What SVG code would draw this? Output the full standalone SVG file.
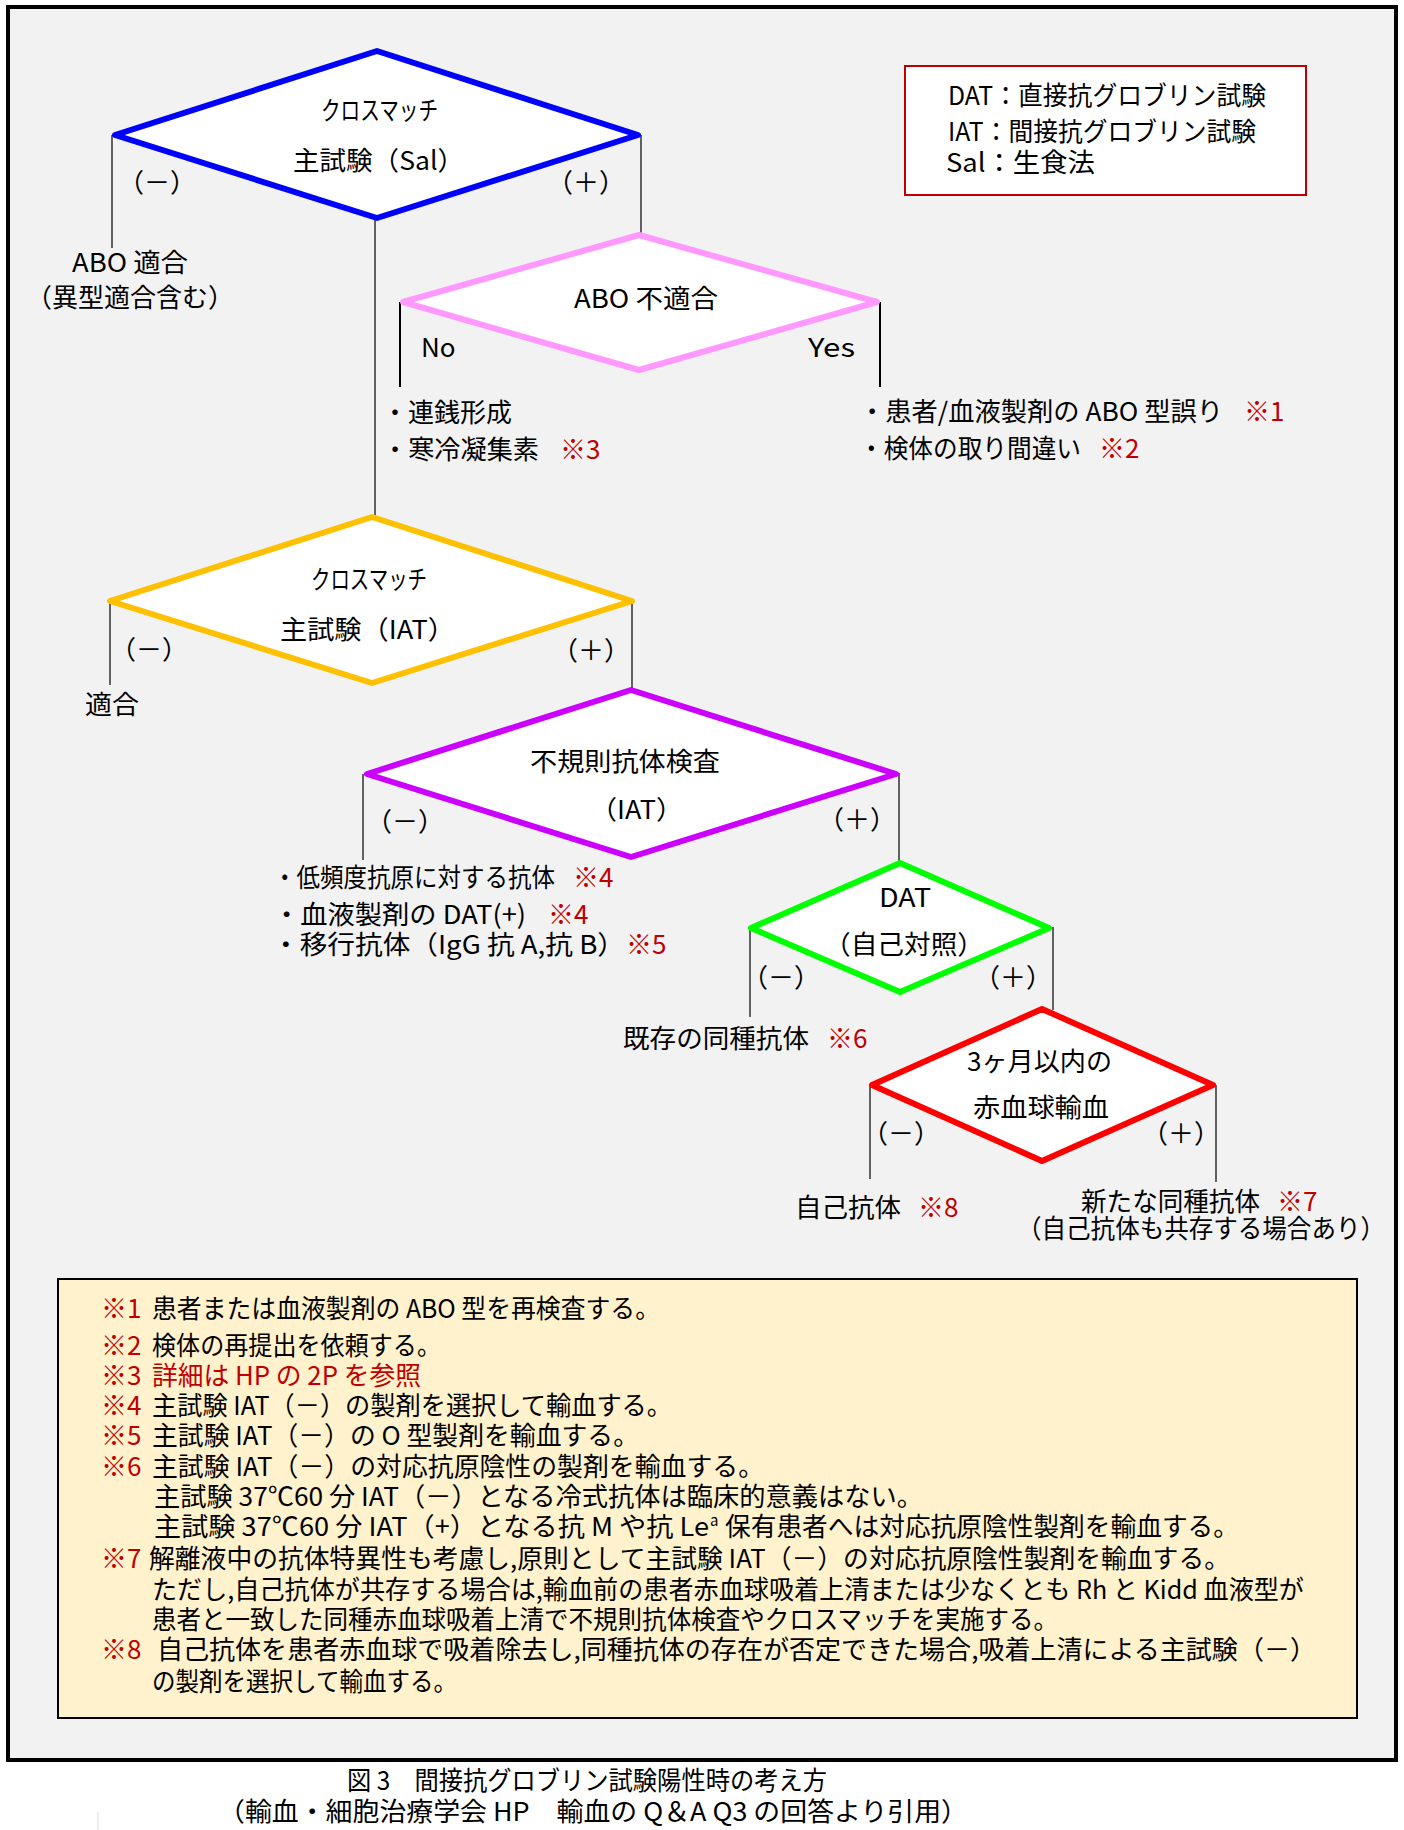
<svg xmlns="http://www.w3.org/2000/svg" width="1404" height="1830" viewBox="0 0 1404 1830">
<style>
.t{font-family:"Noto Sans CJK JP","Noto Sans",sans-serif;font-size:26px;fill:#000}
.m{text-anchor:middle}
.r{fill:#c00000}
.c{stroke:#000;stroke-width:1.2;fill:none}
.c2{stroke:#000;stroke-width:2;fill:none}
.d{fill:#fff;stroke-width:6;stroke-linejoin:round}
</style>
<rect x="0" y="0" width="1404" height="1830" fill="#fff"/>
<rect id="frame" x="8" y="7" width="1388" height="1753" fill="#f2f2f2" stroke="#000" stroke-width="4"/>
<line x1="98" y1="1812" x2="98" y2="1830" stroke="#d9d9d9" stroke-width="1"/>

<g id="connectors">
<line class="c" x1="112" y1="135" x2="112" y2="248"/>
<line class="c" x1="375" y1="219" x2="375" y2="516"/>
<line class="c" x1="641" y1="135" x2="641" y2="234"/>
<line class="c2" x1="400" y1="302" x2="400" y2="387"/>
<line class="c2" x1="880" y1="302" x2="880" y2="387"/>
<line class="c" x1="110" y1="601" x2="110" y2="685"/>
<line class="c" x1="632" y1="601" x2="632" y2="689"/>
<line class="c" x1="363" y1="774" x2="363" y2="860"/>
<line class="c" x1="899" y1="773" x2="899" y2="862"/>
<line class="c" x1="750" y1="927" x2="750" y2="1017"/>
<line class="c" x1="1053" y1="927" x2="1053" y2="1010"/>
<line class="c" x1="870" y1="1085" x2="870" y2="1179"/>
<line class="c" x1="1216" y1="1085" x2="1216" y2="1182"/>
</g>

<g id="crossmatch-sal">
<polygon class="d" stroke="#0000ff" points="115,135 377,51 638,135 377,218"/>
<text class="t" x="321" y="120" textLength="117" lengthAdjust="spacingAndGlyphs">クロスマッチ</text>
<text class="t" x="293" y="170" textLength="171" lengthAdjust="spacingAndGlyphs">主試験（Sal）</text>
<text class="t m" x="157" y="192">（－）</text>
<text class="t m" x="586" y="192">（＋）</text>
</g>

<g id="abo-compatible">
<text class="t" x="72" y="272" textLength="116" lengthAdjust="spacingAndGlyphs">ABO 適合</text>
<text class="t" x="26" y="307">（異型適合含む）</text>
</g>

<g id="abo-incompatible">
<polygon class="d" stroke="#ff99ff" stroke-width="5.5" points="403,302 639,235 877,302 639,370"/>
<text class="t" x="574" y="308" textLength="144" lengthAdjust="spacingAndGlyphs">ABO 不適合</text>
<text class="t" x="421" y="357">No</text>
<text class="t" x="808" y="357" textLength="47" lengthAdjust="spacingAndGlyphs">Yes</text>
</g>

<g id="no-result">
<text class="t" x="382" y="422">・連銭形成</text>
<text class="t" x="382" y="459" textLength="157" lengthAdjust="spacingAndGlyphs">・寒冷凝集素</text>
<text class="t r" x="560" y="459">※3</text>
</g>

<g id="yes-result">
<text class="t" x="859" y="421" textLength="364" lengthAdjust="spacingAndGlyphs">・患者/血液製剤の ABO 型誤り</text>
<text class="t r" x="1244" y="421">※1</text>
<text class="t" x="859" y="458" textLength="222" lengthAdjust="spacingAndGlyphs">・検体の取り間違い</text>
<text class="t r" x="1099" y="458">※2</text>
</g>

<g id="legend">
<rect x="905" y="66" width="401" height="129" fill="#fff" stroke="#c00000" stroke-width="2"/>
<text class="t" x="948" y="105" textLength="318" lengthAdjust="spacingAndGlyphs">DAT：直接抗グロブリン試験</text>
<text class="t" x="948" y="141" textLength="308" lengthAdjust="spacingAndGlyphs">IAT：間接抗グロブリン試験</text>
<text class="t" x="946" y="172" textLength="149" lengthAdjust="spacingAndGlyphs">Sal：生食法</text>
</g>

<g id="crossmatch-iat">
<polygon class="d" stroke="#ffc000" points="110,601 372,517 632,601 372,683"/>
<text class="t" x="311" y="589" textLength="116" lengthAdjust="spacingAndGlyphs">クロスマッチ</text>
<text class="t" x="280" y="639" textLength="175" lengthAdjust="spacingAndGlyphs">主試験（IAT）</text>
<text class="t m" x="149" y="659">（－）</text>
<text class="t m" x="591" y="660">（＋）</text>
</g>

<g id="compatible">
<text class="t" x="85" y="714" textLength="54" lengthAdjust="spacingAndGlyphs">適合</text>
</g>

<g id="antibody-screen">
<polygon class="d" stroke="#cc00ff" points="367,774 631,690 896,774 631,857"/>
<text class="t" x="530" y="771" textLength="190" lengthAdjust="spacingAndGlyphs">不規則抗体検査</text>
<text class="t" x="590" y="819" textLength="93" lengthAdjust="spacingAndGlyphs">（IAT）</text>
<text class="t m" x="405" y="831">（－）</text>
<text class="t m" x="857" y="829">（＋）</text>
</g>

<g id="screen-negative">
<text class="t" x="273" y="887" textLength="282" lengthAdjust="spacingAndGlyphs">・低頻度抗原に対する抗体</text>
<text class="t r" x="573" y="887">※4</text>
<text class="t" x="273" y="924" textLength="253" lengthAdjust="spacingAndGlyphs">・血液製剤の DAT(+)</text>
<text class="t r" x="548" y="924">※4</text>
<text class="t" x="272" y="954" textLength="353" lengthAdjust="spacingAndGlyphs">・移行抗体（IgG 抗 A,抗 B）</text>
<text class="t r" x="626" y="954">※5</text>
</g>

<g id="dat">
<polygon class="d" stroke="#00ff00" points="751,928 900,863 1049,928 900,992"/>
<text class="t" x="879" y="907" textLength="52" lengthAdjust="spacingAndGlyphs">DAT</text>
<text class="t" x="824" y="954" textLength="160" lengthAdjust="spacingAndGlyphs">（自己対照）</text>
<text class="t m" x="781" y="987">（－）</text>
<text class="t m" x="1013" y="987">（＋）</text>
</g>

<g id="existing-alloantibody">
<text class="t" x="623" y="1048" textLength="186" lengthAdjust="spacingAndGlyphs">既存の同種抗体</text>
<text class="t r" x="827" y="1048">※6</text>
</g>

<g id="recent-transfusion">
<polygon class="d" stroke="#ff0000" points="872,1085 1042,1009 1213,1085 1042,1161"/>
<text class="t" x="967" y="1071" textLength="145" lengthAdjust="spacingAndGlyphs">3ヶ月以内の</text>
<text class="t" x="973" y="1117" textLength="136" lengthAdjust="spacingAndGlyphs">赤血球輸血</text>
<text class="t m" x="901" y="1143">（－）</text>
<text class="t m" x="1181" y="1143">（＋）</text>
</g>

<g id="autoantibody">
<text class="t" x="795" y="1217" textLength="106" lengthAdjust="spacingAndGlyphs">自己抗体</text>
<text class="t r" x="918" y="1217">※8</text>
</g>

<g id="new-alloantibody">
<text class="t" x="1081" y="1211" textLength="179" lengthAdjust="spacingAndGlyphs">新たな同種抗体</text>
<text class="t r" x="1277" y="1211">※7</text>
<text class="t" x="1017" y="1238" textLength="368" lengthAdjust="spacingAndGlyphs">（自己抗体も共存する場合あり）</text>
</g>

<g id="notes">
<rect x="58" y="1279" width="1299" height="439" fill="#fff2cc" stroke="#000" stroke-width="2"/>
<text class="t" y="1318"><tspan class="r" x="101">※1</tspan><tspan x="152" textLength="508" lengthAdjust="spacingAndGlyphs">患者または血液製剤の ABO 型を再検査する。</tspan></text>
<text class="t" y="1355"><tspan class="r" x="101">※2</tspan><tspan x="152" textLength="289" lengthAdjust="spacingAndGlyphs">検体の再提出を依頼する。</tspan></text>
<text class="t r" y="1385"><tspan x="101">※3</tspan><tspan x="152" textLength="269" lengthAdjust="spacingAndGlyphs">詳細は HP の 2P を参照</tspan></text>
<text class="t" y="1415"><tspan class="r" x="101">※4</tspan><tspan x="152" textLength="520" lengthAdjust="spacingAndGlyphs">主試験 IAT（－）の製剤を選択して輸血する。</tspan></text>
<text class="t" y="1445"><tspan class="r" x="101">※5</tspan><tspan x="152" textLength="487" lengthAdjust="spacingAndGlyphs">主試験 IAT（－）の O 型製剤を輸血する。</tspan></text>
<text class="t" y="1476"><tspan class="r" x="101">※6</tspan><tspan x="152" textLength="612" lengthAdjust="spacingAndGlyphs">主試験 IAT（－）の対応抗原陰性の製剤を輸血する。</tspan></text>
<text class="t" y="1506"><tspan x="154" textLength="769" lengthAdjust="spacingAndGlyphs">主試験 37℃60 分 IAT（－）となる冷式抗体は臨床的意義はない。</tspan></text>
<text class="t" y="1536"><tspan x="154" textLength="555" lengthAdjust="spacingAndGlyphs">主試験 37℃60 分 IAT（+）となる抗 M や抗 Le</tspan><tspan x="710" dy="-10" font-size="15">a</tspan><tspan x="725" dy="10" textLength="514" lengthAdjust="spacingAndGlyphs">保有患者へは対応抗原陰性製剤を輸血する。</tspan></text>
<text class="t" y="1568"><tspan class="r" x="101">※7</tspan><tspan x="149" textLength="1081" lengthAdjust="spacingAndGlyphs">解離液中の抗体特異性も考慮し,原則として主試験 IAT（－）の対応抗原陰性製剤を輸血する。</tspan></text>
<text class="t" y="1599"><tspan x="152" textLength="1152" lengthAdjust="spacingAndGlyphs">ただし,自己抗体が共存する場合は,輸血前の患者赤血球吸着上清または少なくとも Rh と Kidd 血液型が</tspan></text>
<text class="t" y="1629"><tspan x="152" textLength="906" lengthAdjust="spacingAndGlyphs">患者と一致した同種赤血球吸着上清で不規則抗体検査やクロスマッチを実施する。</tspan></text>
<text class="t" y="1659"><tspan class="r" x="101">※8</tspan><tspan x="157" textLength="1159" lengthAdjust="spacingAndGlyphs">自己抗体を患者赤血球で吸着除去し,同種抗体の存在が否定できた場合,吸着上清による主試験（－）</tspan></text>
<text class="t" y="1691"><tspan x="152" textLength="305" lengthAdjust="spacingAndGlyphs">の製剤を選択して輸血する。</tspan></text>
</g>

<g id="caption">
<text class="t" x="347" y="1790" textLength="480" lengthAdjust="spacingAndGlyphs">図 3　間接抗グロブリン試験陽性時の考え方</text>
<text class="t" x="218" y="1821" textLength="750" lengthAdjust="spacingAndGlyphs">（輸血・細胞治療学会 HP　輸血の Q＆A Q3 の回答より引用）</text>
</g>
</svg>
